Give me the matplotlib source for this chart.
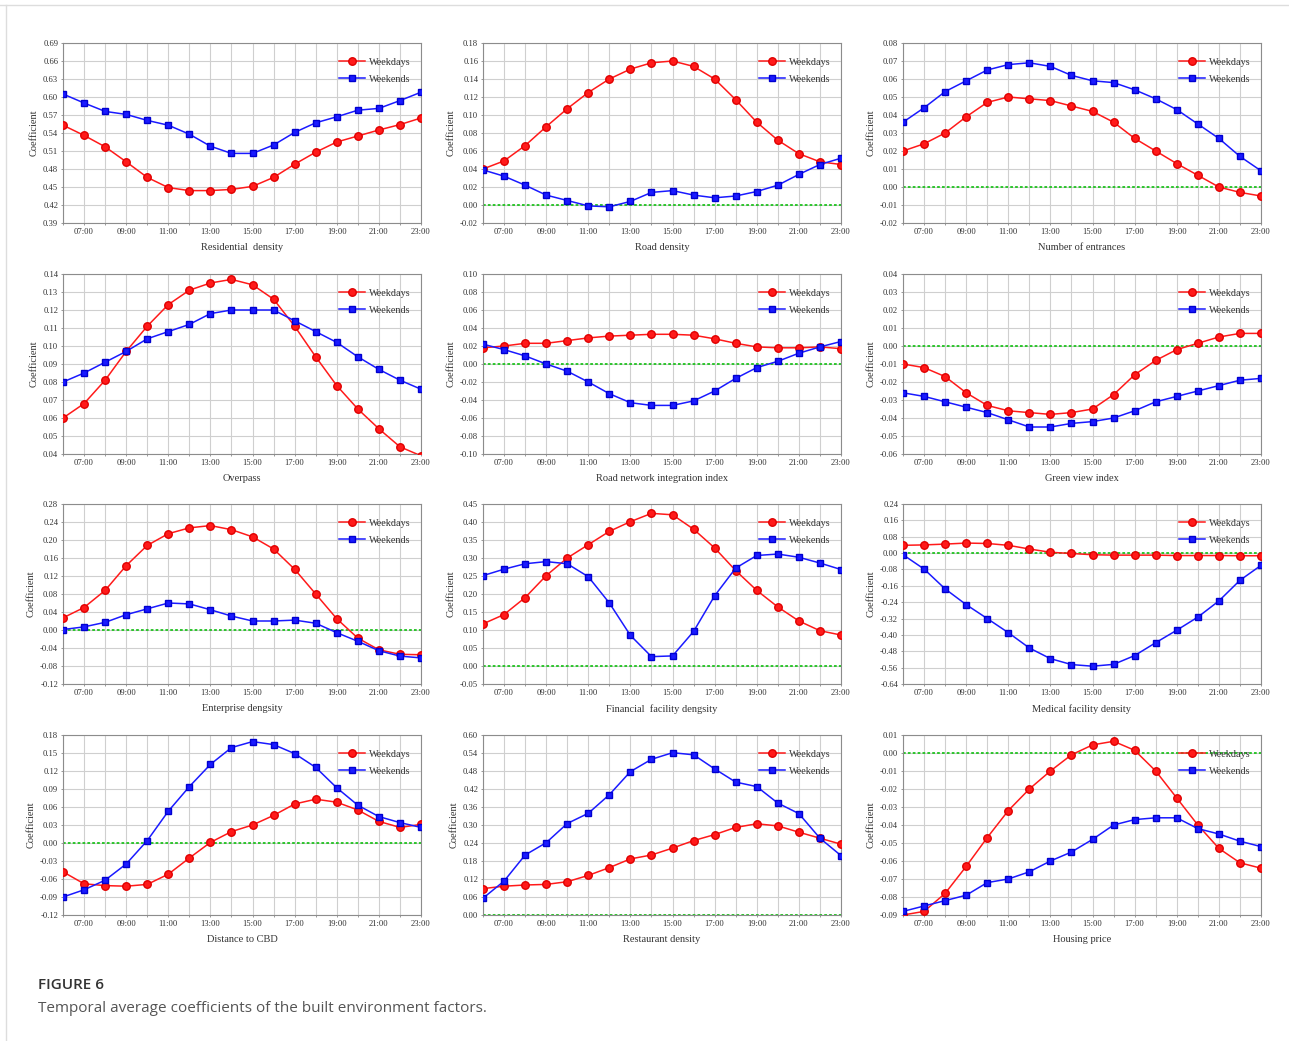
import matplotlib
matplotlib.use("Agg")
import matplotlib.pyplot as plt
import numpy as np
from matplotlib.lines import Line2D
from matplotlib.ticker import FuncFormatter

plt.rcParams['font.family'] = ['Liberation Serif', 'DejaVu Serif']

hours = list(range(6, 24))
hour_ticks = list(range(7, 24, 2))
hour_labels = ['%02d:00' % h for h in hour_ticks]

# weekday / weekend coefficients, 06:00 .. 23:00
res_wd = [0.553, 0.536, 0.517, 0.492, 0.466, 0.449, 0.444, 0.444, 0.446, 0.451, 0.466, 0.488, 0.508, 0.525, 0.535, 0.545, 0.554, 0.565]
res_we = [0.605, 0.590, 0.576, 0.571, 0.561, 0.553, 0.538, 0.518, 0.506, 0.506, 0.520, 0.541, 0.557, 0.567, 0.578, 0.581, 0.594, 0.608]

road_wd = [0.040, 0.049, 0.066, 0.087, 0.107, 0.125, 0.140, 0.151, 0.158, 0.160, 0.154, 0.140, 0.117, 0.092, 0.072, 0.057, 0.048, 0.045]
road_we = [0.039, 0.032, 0.022, 0.011, 0.005, -0.001, -0.002, 0.004, 0.014, 0.016, 0.011, 0.008, 0.010, 0.015, 0.022, 0.034, 0.045, 0.052]

ent_wd = [0.020, 0.024, 0.030, 0.039, 0.047, 0.050, 0.049, 0.048, 0.045, 0.042, 0.036, 0.027, 0.020, 0.013, 0.0065, 0.000, -0.003, -0.005]
ent_we = [0.036, 0.044, 0.053, 0.059, 0.065, 0.068, 0.069, 0.067, 0.062, 0.059, 0.058, 0.054, 0.049, 0.043, 0.035, 0.027, 0.017, 0.009]

over_wd = [0.060, 0.068, 0.081, 0.097, 0.111, 0.123, 0.131, 0.135, 0.137, 0.134, 0.126, 0.111, 0.094, 0.078, 0.065, 0.054, 0.044, 0.039]
over_we = [0.080, 0.085, 0.091, 0.097, 0.104, 0.108, 0.112, 0.118, 0.120, 0.120, 0.120, 0.114, 0.108, 0.102, 0.094, 0.087, 0.081, 0.076]

rni_wd = [0.018, 0.020, 0.023, 0.023, 0.026, 0.029, 0.031, 0.032, 0.033, 0.033, 0.032, 0.028, 0.023, 0.019, 0.018, 0.018, 0.019, 0.017]
rni_we = [0.022, 0.016, 0.009, 0.000, -0.008, -0.020, -0.033, -0.043, -0.046, -0.046, -0.041, -0.030, -0.016, -0.004, 0.003, 0.012, 0.019, 0.025]

green_wd = [-0.010, -0.012, -0.017, -0.026, -0.033, -0.036, -0.037, -0.038, -0.037, -0.035, -0.027, -0.016, -0.008, -0.002, 0.0015, 0.005, 0.007, 0.007]
green_we = [-0.026, -0.028, -0.031, -0.034, -0.037, -0.041, -0.045, -0.045, -0.043, -0.042, -0.040, -0.036, -0.031, -0.028, -0.025, -0.022, -0.019, -0.018]

entp_wd = [0.027, 0.050, 0.088, 0.143, 0.188, 0.214, 0.227, 0.232, 0.223, 0.207, 0.180, 0.135, 0.080, 0.025, -0.018, -0.044, -0.054, -0.055]
entp_we = [0.001, 0.007, 0.017, 0.034, 0.047, 0.060, 0.058, 0.045, 0.031, 0.020, 0.020, 0.022, 0.015, -0.006, -0.025, -0.046, -0.058, -0.062]

fin_wd = [0.117, 0.143, 0.190, 0.251, 0.300, 0.337, 0.374, 0.401, 0.424, 0.420, 0.380, 0.328, 0.265, 0.210, 0.164, 0.125, 0.098, 0.086]
fin_we = [0.251, 0.269, 0.284, 0.290, 0.284, 0.248, 0.175, 0.085, 0.026, 0.028, 0.096, 0.195, 0.272, 0.307, 0.311, 0.302, 0.286, 0.268]

med_wd = [0.038, 0.040, 0.044, 0.049, 0.047, 0.038, 0.020, 0.004, -0.002, -0.008, -0.010, -0.010, -0.010, -0.012, -0.012, -0.012, -0.013, -0.013]
med_we = [-0.008, -0.078, -0.175, -0.252, -0.320, -0.389, -0.464, -0.516, -0.545, -0.553, -0.544, -0.501, -0.438, -0.377, -0.313, -0.234, -0.133, -0.060]

cbd_wd = [-0.048, -0.068, -0.071, -0.072, -0.069, -0.052, -0.025, 0.001, 0.019, 0.030, 0.046, 0.065, 0.073, 0.068, 0.055, 0.036, 0.026, 0.031]
cbd_we = [-0.090, -0.078, -0.062, -0.035, 0.004, 0.053, 0.094, 0.131, 0.159, 0.169, 0.164, 0.149, 0.126, 0.092, 0.063, 0.044, 0.034, 0.026]

rest_wd = [0.088, 0.096, 0.100, 0.102, 0.111, 0.132, 0.158, 0.187, 0.200, 0.223, 0.248, 0.268, 0.292, 0.304, 0.297, 0.276, 0.256, 0.236]
rest_we = [0.056, 0.113, 0.200, 0.241, 0.305, 0.339, 0.401, 0.478, 0.519, 0.541, 0.534, 0.487, 0.443, 0.428, 0.373, 0.338, 0.256, 0.198]

house_wd = [-0.090, -0.088, -0.078, -0.063, -0.047, -0.032, -0.020, -0.010, -0.001, 0.0045, 0.0065, 0.0015, -0.010, -0.025, -0.040, -0.053, -0.061, -0.064]
house_we = [-0.088, -0.085, -0.082, -0.079, -0.072, -0.070, -0.066, -0.060, -0.055, -0.048, -0.040, -0.037, -0.036, -0.036, -0.042, -0.045, -0.049, -0.052]

factor_names = ['Residential  density', 'Road density', 'Number of entrances',
                'Overpass', 'Road network integration index', 'Green view index',
                'Enterprise dengsity', 'Financial  facility dengsity', 'Medical facility density',
                'Distance to CBD', 'Restaurant density', 'Housing price']
weekday_series = [res_wd, road_wd, ent_wd, over_wd, rni_wd, green_wd,
                  entp_wd, fin_wd, med_wd, cbd_wd, rest_wd, house_wd]
weekend_series = [res_we, road_we, ent_we, over_we, rni_we, green_we,
                  entp_we, fin_we, med_we, cbd_we, rest_we, house_we]
# (min, max, step) of each y axis
y_ranges = [(0.39, 0.69, 0.03), (-0.02, 0.18, 0.02), (-0.02, 0.08, 0.01),
            (0.04, 0.14, 0.01), (-0.10, 0.10, 0.02), (-0.06, 0.04, 0.01),
            (-0.12, 0.28, 0.04), (-0.05, 0.45, 0.05), (-0.64, 0.24, 0.08),
            (-0.12, 0.18, 0.03), (0.00, 0.60, 0.06), (-0.09, 0.01, 0.01)]


def two_dec(v, pos):
    return '%.2f' % (round(v, 4) + 0.0)


fig = plt.figure(figsize=(12.89, 10.41), dpi=100)
W, H = 1289.0, 1041.0
col_left = [63, 483, 903]
row_top = [43, 274, 504, 735]
ax_w, ax_h = 358, 180

for i in range(12):
    r, c = divmod(i, 3)
    ax = fig.add_axes([col_left[c] / W, 1 - (row_top[r] + ax_h) / H, ax_w / W, ax_h / H])
    lo, hi, step = y_ranges[i]
    ax.axhline(0, color='#1fc21f', ls=(0, (1.5, 1.2)), lw=1.3, zorder=2)
    ax.plot(hours, weekday_series[i], '-o', color='#ff1a1a', mec='#e00000', ms=5.4, lw=1.1,
            label='Weekdays', zorder=3)
    ax.plot(hours, weekend_series[i], '-s', color='#1a1aff', mec='#0000d0', ms=4.8, lw=1.1,
            label='Weekends', zorder=4)
    ax.set_xlim(6, 23)
    ax.set_ylim(lo, hi)
    ax.set_xticks(hour_ticks)
    ax.set_xticklabels(hour_labels)
    ax.set_xticks(hours, minor=True)
    ax.set_yticks(np.round(np.arange(lo, hi + step / 2, step), 4))
    ax.yaxis.set_major_formatter(FuncFormatter(two_dec))
    ax.grid(which='both', color='#cfcfcf', lw=0.8, zorder=0)
    ax.set_axisbelow(True)
    ax.tick_params(which='both', labelsize=6.2, length=1.5, width=0.6, color='#888888',
                   labelcolor='#333333', pad=2)
    for sp in ax.spines.values():
        sp.set_color('#8c8c8c')
        sp.set_linewidth(0.8)
    ax.set_xlabel(factor_names[i], fontsize=7.5, color='#333333', labelpad=5)
    ax.set_ylabel('Coefficient', fontsize=7.5, color='#333333', labelpad=3)
    ax.legend(loc='upper right', bbox_to_anchor=(1.0, 0.975), frameon=False, fontsize=7.3,
              handlelength=2.6, labelspacing=0.8, handletextpad=0.4, borderaxespad=0.6,
              labelcolor='#333333')

# page frame lines
fig.add_artist(Line2D([0, 1], [1 - 5 / H, 1 - 5 / H], color='#dddddd', lw=1))
fig.add_artist(Line2D([6 / W, 6 / W], [0, 1 - 5 / H], color='#dddddd', lw=1))

fig.text(38 / W, 1 - 985 / H, 'FIGURE 6', fontsize=11, family=['Open Sans', 'DejaVu Sans'],
         color='#333333', weight='semibold', va='center')
fig.text(38 / W, 1 - 1008 / H, 'Temporal average coefficients of the built environment factors.',
         fontsize=11, family=['Open Sans', 'DejaVu Sans'], color='#555555', va='center')

fig.savefig('out.png', dpi=100, facecolor='white')
